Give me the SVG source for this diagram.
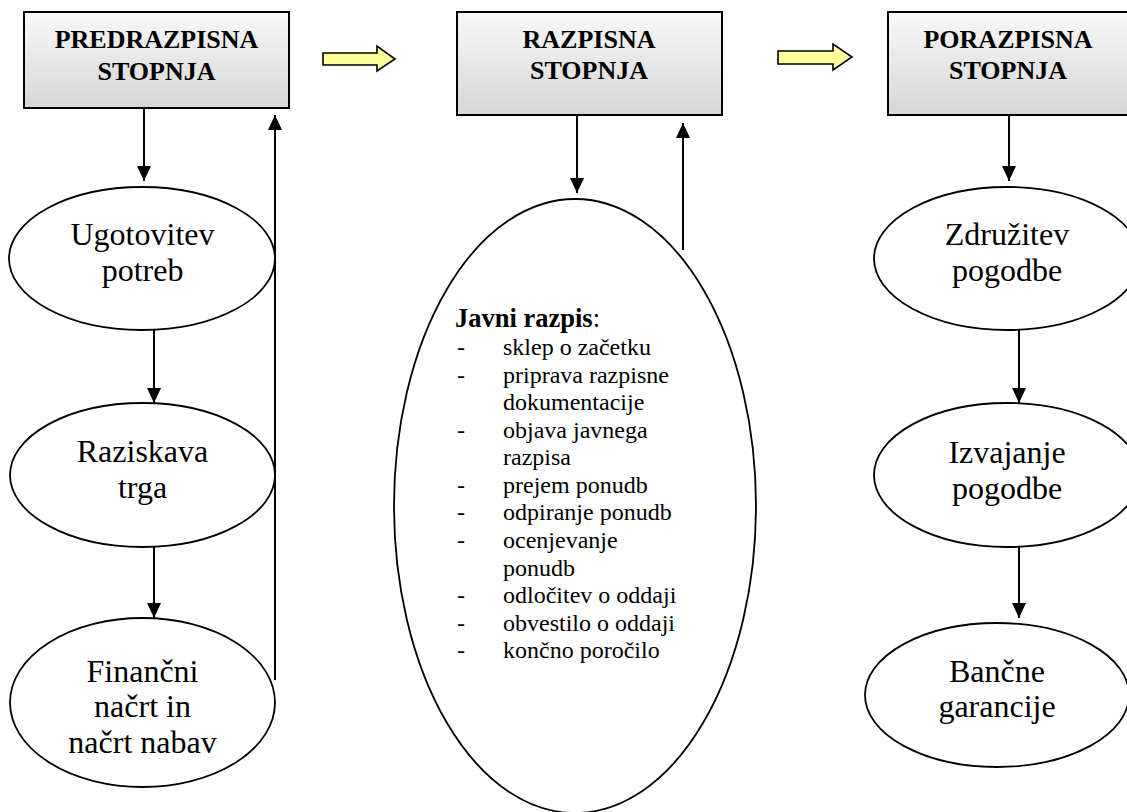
<svg xmlns="http://www.w3.org/2000/svg" width="1127" height="812" viewBox="0 0 1127 812">
<style>
.box{stroke:#000;stroke-width:2;fill:url(#g)}
.el{fill:#fff;stroke:#000;stroke-width:1.8}
.hd{font-family:"Liberation Serif","Times New Roman",serif;font-weight:bold;font-size:26px;text-anchor:middle;fill:#000}
.t{font-family:"Liberation Serif","Times New Roman",serif;font-size:32px;text-anchor:middle;fill:#000}
.li{font-family:"Liberation Serif","Times New Roman",serif;font-size:24px;fill:#000}
.ln{stroke:#000;stroke-width:2;fill:none;marker-end:url(#ah)}
.ya{fill:#ffff99;stroke:#000;stroke-width:1.6;stroke-linejoin:miter}
</style>
<defs>
<linearGradient id="g" x1="0" y1="0" x2="0" y2="1">
<stop offset="0" stop-color="#f8f8f8"/>
<stop offset="1" stop-color="#d6d6d6"/>
</linearGradient>
<marker id="ah" markerUnits="userSpaceOnUse" markerWidth="16" markerHeight="16" viewBox="0 0 16 16" refX="15" refY="8" orient="auto">
<path d="M0,1 L15,8 L0,15 Z" fill="#000"/>
</marker>
</defs>
<rect width="1127" height="812" fill="#fff"/>

<g id="connectors">
<line class="ln" x1="144" y1="108" x2="144" y2="181"/>
<line class="ln" x1="154" y1="330" x2="154" y2="403"/>
<line class="ln" x1="154" y1="547" x2="154" y2="618"/>
<line class="ln" x1="275" y1="680" x2="275" y2="115"/>
<line class="ln" x1="577" y1="115" x2="577" y2="193"/>
<line class="ln" x1="683" y1="250" x2="683" y2="123"/>
<line class="ln" x1="1009" y1="108" x2="1009" y2="181"/>
<line class="ln" x1="1019" y1="330" x2="1019" y2="403"/>
<line class="ln" x1="1019" y1="547" x2="1019" y2="618"/>
<polygon class="ya" points="323,53 377,53 377,46 395,59 377,71 377,65 323,65"/>
<polygon class="ya" points="778,51 833,51 833,44 852,57 833,70 833,64 778,64"/>
</g>

<g id="box-predrazpisna">
<rect class="box" x="24" y="12" width="265" height="96"/>
<text class="hd" x="156.5" y="48">PREDRAZPISNA</text>
<text class="hd" x="156.5" y="80">STOPNJA</text>
</g>

<g id="box-razpisna">
<rect class="box" x="457" y="12" width="265" height="103"/>
<text class="hd" x="589" y="48">RAZPISNA</text>
<text class="hd" x="589" y="79">STOPNJA</text>
</g>

<g id="box-porazpisna">
<rect class="box" x="888" y="12" width="250" height="103"/>
<text class="hd" x="1008" y="48">PORAZPISNA</text>
<text class="hd" x="1008" y="79">STOPNJA</text>
</g>

<g id="el-ugotovitev">
<ellipse class="el" cx="142" cy="258.5" rx="133" ry="71.5"/>
<text class="t" x="142.5" y="245">Ugotovitev</text>
<text class="t" x="142.5" y="281">potreb</text>
</g>

<g id="el-raziskava">
<ellipse class="el" cx="142.5" cy="475" rx="132.5" ry="72"/>
<text class="t" x="142.5" y="462">Raziskava</text>
<text class="t" x="142.5" y="498">trga</text>
</g>

<g id="el-financni">
<ellipse class="el" cx="142.5" cy="702.5" rx="132.5" ry="84.5"/>
<text class="t" x="142.5" y="682">Finančni</text>
<text class="t" x="142.5" y="717">načrt in</text>
<text class="t" x="142.5" y="753">načrt nabav</text>
</g>

<g id="el-javni-razpis">
<ellipse class="el" cx="575" cy="506" rx="181" ry="307"/>
<text class="li" x="455" y="327"><tspan font-weight="bold" font-size="26.5px">Javni razpis</tspan><tspan font-size="26.5px">:</tspan></text>
<g class="li">
<text x="457" y="355">-</text><text x="503" y="355">sklep o začetku</text>
<text x="457" y="383">-</text><text x="503" y="383">priprava razpisne</text>
<text x="503" y="410">dokumentacije</text>
<text x="457" y="438">-</text><text x="503" y="438">objava javnega</text>
<text x="503" y="465">razpisa</text>
<text x="457" y="493">-</text><text x="503" y="493">prejem ponudb</text>
<text x="457" y="520">-</text><text x="503" y="520">odpiranje ponudb</text>
<text x="457" y="548">-</text><text x="503" y="548">ocenjevanje</text>
<text x="503" y="576">ponudb</text>
<text x="457" y="603">-</text><text x="503" y="603">odločitev o oddaji</text>
<text x="457" y="631">-</text><text x="503" y="631">obvestilo o oddaji</text>
<text x="457" y="658">-</text><text x="503" y="658">končno poročilo</text>
</g>
</g>

<g id="el-zdruzitev">
<ellipse class="el" cx="1007" cy="258.5" rx="133" ry="71.5"/>
<text class="t" x="1007" y="245">Združitev</text>
<text class="t" x="1007" y="281">pogodbe</text>
</g>

<g id="el-izvajanje">
<ellipse class="el" cx="1007" cy="475" rx="133" ry="72"/>
<text class="t" x="1007" y="463">Izvajanje</text>
<text class="t" x="1007" y="499">pogodbe</text>
</g>

<g id="el-bancne">
<ellipse class="el" cx="997" cy="695" rx="132" ry="72"/>
<text class="t" x="997" y="682">Bančne</text>
<text class="t" x="997" y="717">garancije</text>
</g>
</svg>
